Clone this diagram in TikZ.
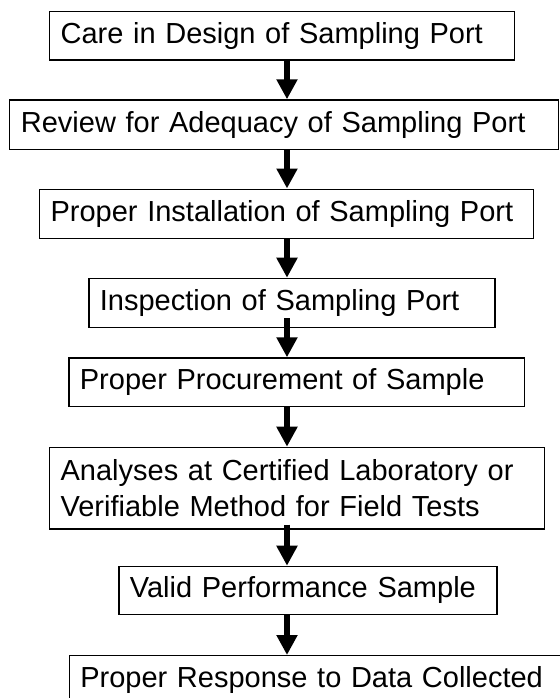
\documentclass[tikz,border=0pt]{standalone}
\usepackage{fontspec}
\setmainfont{Liberation Sans}
\usetikzlibrary{arrows.meta,calc}
\tikzset{
    stepbox/.style={draw,line width=0.6pt,anchor=north west,align=left,
        inner xsep=5.5pt,inner ysep=2pt,font=\fontsize{14.5pt}{17.6pt}\selectfont},
    flow/.style={line width=3pt,-{Triangle[width=10pt,length=10pt]}},
}
\begin{document}
\begin{tikzpicture}[x=0.5pt,y=-0.5pt]
\useasboundingbox (0,0) rectangle (559,698);
\coordinate (axis) at (287,0);
% the steps, top to bottom
\node[stepbox,text width=221.5pt,minimum height=24.3pt] (care) at (49,10.7) {Care in Design of Sampling Port};
\node[stepbox,text width=263.3pt,minimum height=24.85pt] (review) at (9.3,99.3) {Review for Adequacy of Sampling Port};
\node[stepbox,text width=236.1pt,minimum height=24.6pt] (install) at (39,188.5) {Proper Installation of Sampling Port};
\node[stepbox,text width=192pt,minimum height=24.5pt] (inspect) at (88.3,277.7) {Inspection of Sampling Port};
\node[stepbox,text width=216.7pt,minimum height=24.35pt] (procure) at (68.3,357.3) {Proper Procurement of Sample};
\node[stepbox,text width=236.5pt,minimum height=40.8pt] (analyses) at (49,446.7) {Analyses at Certified Laboratory or\\Verifiable Method for Field Tests};
\node[stepbox,text width=178pt,minimum height=24.15pt] (valid) at (118.3,565.7) {Valid Performance Sample};
\node[stepbox,text width=244pt,minimum height=24.5pt] (response) at (68.7,655) {Proper Response to Data Collected};
% arrows between them
\draw[flow] (care.south -| axis) -- (review.north -| axis);
\draw[flow] (review.south -| axis) -- (install.north -| axis);
\draw[flow] (install.south -| axis) -- (inspect.north -| axis);
\draw[flow] ($(inspect.south -| axis)+(0,-9.5)$) -- (procure.north -| axis);
\draw[flow] (procure.south -| axis) -- (analyses.north -| axis);
\draw[flow] ($(analyses.south -| axis)+(0,-5)$) -- (valid.north -| axis);
\draw[flow] (valid.south -| axis) -- (response.north -| axis);
\end{tikzpicture}
\end{document}
